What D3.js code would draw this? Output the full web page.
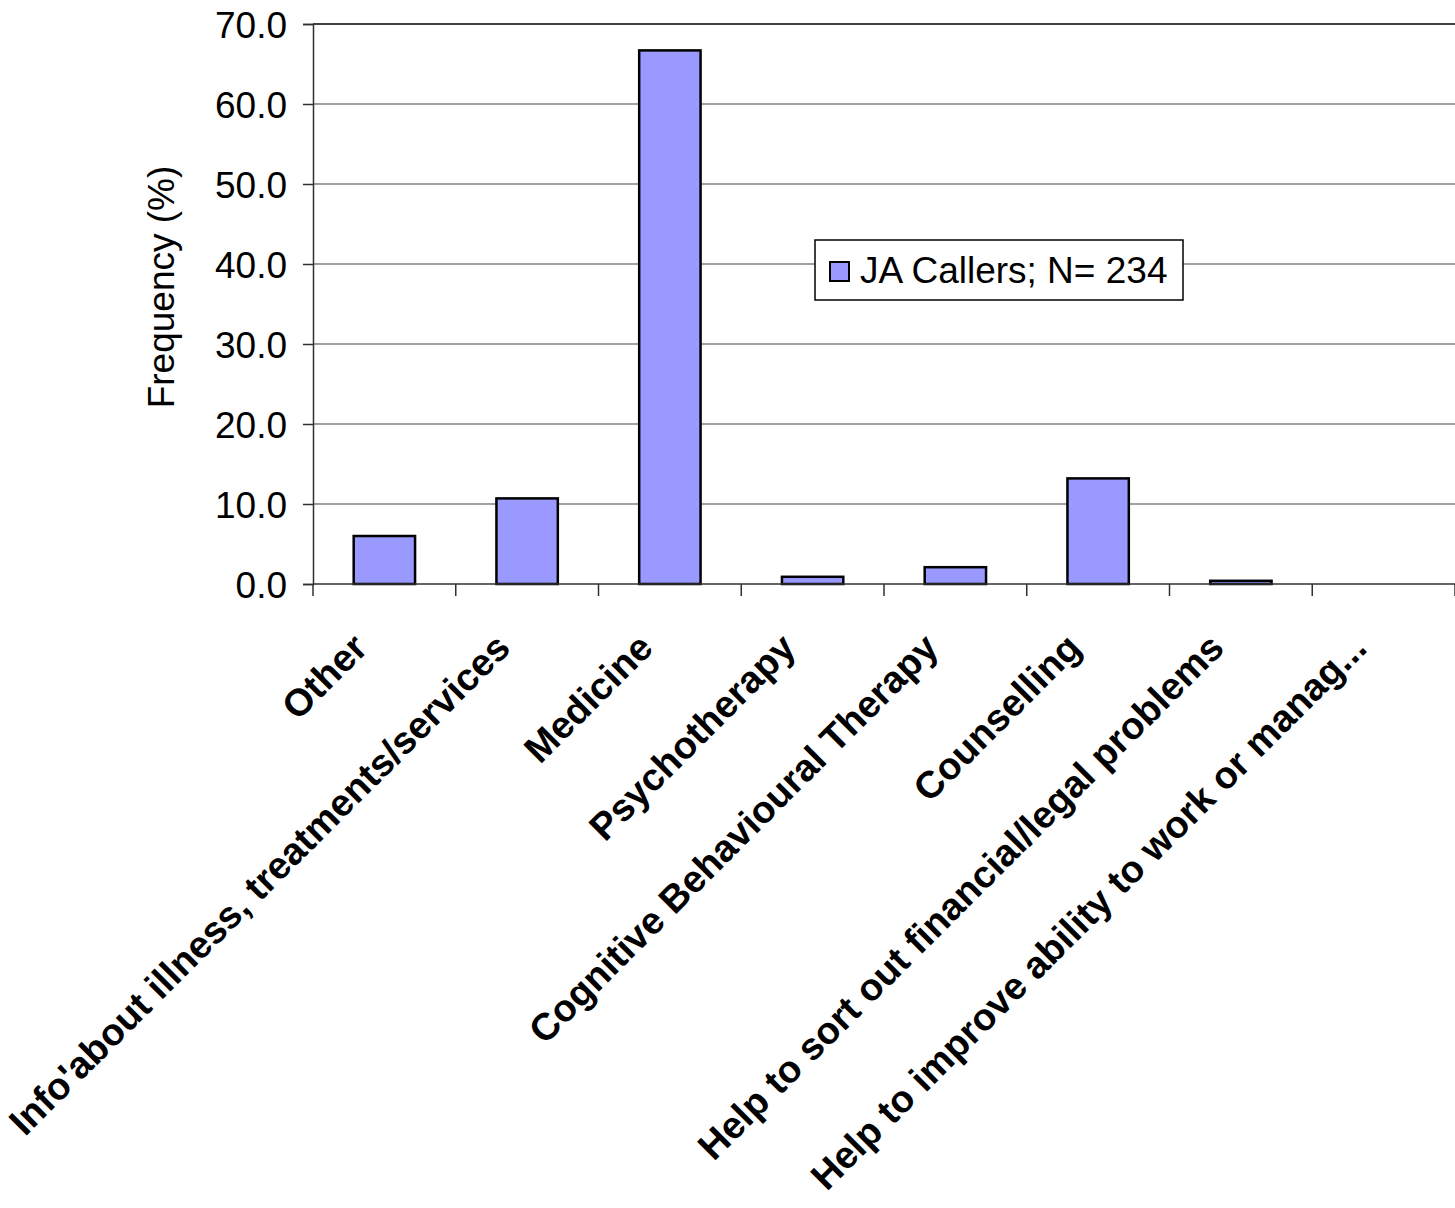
<!DOCTYPE html>
<html>
<head>
<meta charset="utf-8">
<script src="https://cdn.jsdelivr.net/npm/d3@7"></script>
<style>
  html, body { margin: 0; padding: 0; background: #fff; }
  svg { display: block; font-family: "Liberation Sans", Arial, sans-serif; }
</style>
</head>
<body>
<svg id="chart" width="1455" height="1208"></svg>
<script>
// Help requested by callers (% of callers)
const categories = [
  "Other",
  "Info'about illness, treatments/services",
  "Medicine",
  "Psychotherapy",
  "Cognitive Behavioural Therapy",
  "Counselling",
  "Help to sort out financial/legal problems",
  "Help to improve ability to work or manag..."
];
const values = [6.0, 10.7, 66.7, 0.9, 2.1, 13.2, 0.4, 0.0];
const yTicks = [0, 10, 20, 30, 40, 50, 60, 70];
const seriesName = "JA Callers; N= 234";
const yTitle = "Frequency (%)";

const svg = d3.select("#chart");
const plot = { left: 313, right: 1455, top: 24, bottom: 584 };

const x = d3.scaleBand()
  .domain(categories)
  .range([plot.left, plot.right])
  .paddingInner(0.57)
  .paddingOuter(0.285);

const y = d3.scaleLinear()
  .domain([0, 70])
  .range([plot.bottom, plot.top]);

// horizontal gridlines
svg.append("g")
  .selectAll("line")
  .data(yTicks.filter(d => d > 0 && d < 70))
  .join("line")
  .attr("x1", plot.left).attr("x2", plot.right)
  .attr("y1", d => y(d)).attr("y2", d => y(d))
  .attr("stroke", "#808080").attr("stroke-width", 1.5);

// top border of plot area
svg.append("line")
  .attr("x1", plot.left).attr("x2", plot.right)
  .attr("y1", y(70)).attr("y2", y(70))
  .attr("stroke", "#000").attr("stroke-width", 1.5);

// y axis
const yAxis = d3.axisLeft(y)
  .tickValues(yTicks)
  .tickFormat(d3.format(".1f"))
  .tickSize(10)
  .tickPadding(16);
const gy = svg.append("g")
  .attr("transform", `translate(${plot.left},0)`)
  .call(yAxis);
gy.select(".domain").attr("stroke", "#303030").attr("stroke-width", 1.5);
gy.selectAll(".tick line").attr("stroke", "#303030").attr("stroke-width", 1.5);
gy.selectAll(".tick text")
  .attr("font-size", 37)
  .attr("fill", "#000")
  .attr("font-family", "Liberation Sans, Arial, sans-serif")
  .attr("dy", "0.36em");

// y axis title
svg.append("text")
  .attr("transform", "translate(174,287) rotate(-90)")
  .attr("text-anchor", "middle")
  .attr("font-size", 37)
  .attr("fill", "#000")
  .text(yTitle);

// bars
svg.append("g")
  .selectAll("rect")
  .data(values)
  .join("rect")
  .attr("x", (d, i) => x(categories[i]))
  .attr("width", x.bandwidth())
  .attr("y", d => y(d))
  .attr("height", d => y(0) - y(d))
  .attr("fill", "#9999FF")
  .attr("stroke", "#000")
  .attr("stroke-width", 2.5);

// x axis baseline and category boundary ticks
svg.append("line")
  .attr("x1", plot.left).attr("x2", plot.right)
  .attr("y1", y(0)).attr("y2", y(0))
  .attr("stroke", "#303030").attr("stroke-width", 1.5);

const step = x.step();
const boundaries = d3.range(categories.length + 1).map(i => plot.left + i * step);
svg.append("g")
  .selectAll("line")
  .data(boundaries)
  .join("line")
  .attr("x1", d => d).attr("x2", d => d)
  .attr("y1", y(0)).attr("y2", y(0) + 12)
  .attr("stroke", "#303030").attr("stroke-width", 1.5);

// category labels, rotated
svg.append("g")
  .selectAll("text")
  .data(categories)
  .join("text")
  .attr("transform", d => `translate(${x(d) + x.bandwidth() / 2 - 15},650) rotate(-45)`)
  .attr("text-anchor", "end")
  .attr("font-size", 38)
  .attr("font-weight", "bold")
  .attr("fill", "#000")
  .text(d => d);

// legend
const lg = svg.append("g").attr("transform", "translate(815,240)");
lg.append("rect")
  .attr("width", 368).attr("height", 60)
  .attr("fill", "#fff").attr("stroke", "#000").attr("stroke-width", 1.5);
lg.append("rect")
  .attr("x", 15).attr("y", 22).attr("width", 19).attr("height", 19)
  .attr("fill", "#9999FF").attr("stroke", "#000").attr("stroke-width", 2);
lg.append("text")
  .attr("x", 45).attr("y", 43)
  .attr("font-size", 37)
  .attr("fill", "#000")
  .text(seriesName);
</script>
</body>
</html>
